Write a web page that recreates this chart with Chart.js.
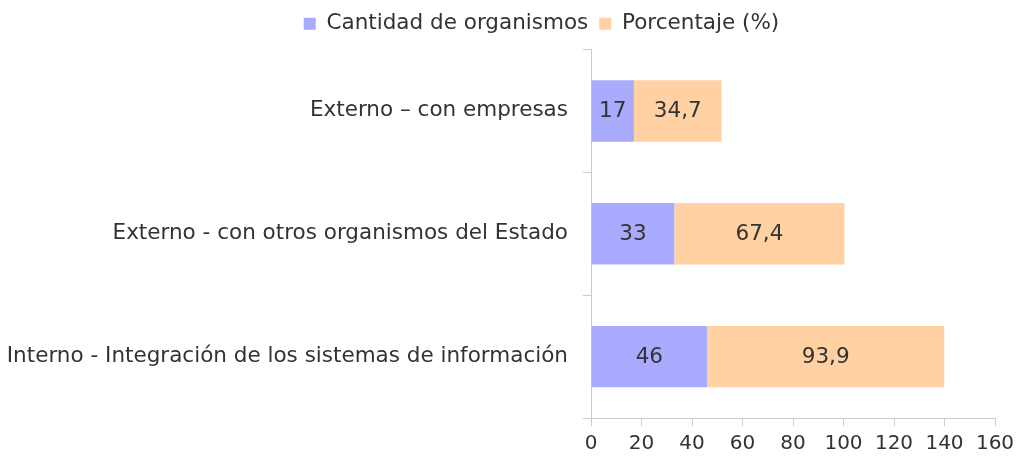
<!DOCTYPE html>
<html><head><meta charset="utf-8">
<script src="https://cdn.jsdelivr.net/npm/chart.js@4/dist/chart.umd.min.js"></script>
<style>html,body{margin:0;padding:0;background:#fff}#wrap{width:1022px;height:459px}</style>
</head><body><div id="wrap"><canvas id="c"></canvas></div>
<script>
const categories = ["Externo – con empresas", "Externo - con otros organismos del Estado", "Interno - Integración de los sistemas de información"];
const cantidad = [17, 33, 46];
const porcentaje = [34.7, 67.4, 93.9];
const xTicks = [0, 20, 40, 60, 80, 100, 120, 140, 160];

const FONT = "'DejaVu Sans', Verdana, sans-serif";
const LABEL_SIZE = 21.5;
const TICK_SIZE = 20;
const LEGEND_SHIFT = 44;

const labelPlugin = {
  id: 'barLabels',
  beforeLayout(chart) {
    const lg = chart.legend;
    if (lg && !lg._padPatched) {
      lg._padPatched = true;
      const origFit = lg.fit;
      lg.fit = function () { origFit.call(this); this.height += 5; };
    }
  },
  afterLayout(chart) {
    const lg = chart.legend;
    if (lg) { lg.left += LEGEND_SHIFT; lg.right += LEGEND_SHIFT; }
  },
  afterDatasetsDraw(chart) {
    const ctx = chart.ctx;
    ctx.save();
    ctx.font = LABEL_SIZE + "px " + FONT;
    ctx.fillStyle = "#333";
    ctx.textAlign = "center";
    ctx.textBaseline = "middle";
    chart.data.datasets.forEach((ds, i) => {
      chart.getDatasetMeta(i).data.forEach((bar, j) => {
        const v = ds.data[j];
        const cx = (bar.x + bar.base) / 2;
        ctx.fillText(String(v).replace('.', ','), cx, bar.y + 1);
      });
    });
    ctx.restore();
  }
};

new Chart(document.getElementById('c'), {
  type: 'bar',
  data: {
    labels: categories,
    datasets: [
      { label: 'Cantidad de organismos', data: cantidad, backgroundColor: '#aaaaff' },
      { label: 'Porcentaje (%)', data: porcentaje, backgroundColor: '#ffd1a3' }
    ]
  },
  options: {
    indexAxis: 'y',
    responsive: true,
    maintainAspectRatio: false,
    animation: false,
    layout: { padding: { top: 2, right: 27, left: 0, bottom: 3 } },
    datasets: { bar: { categoryPercentage: 1, barPercentage: 0.5 } },
    plugins: {
      legend: {
        position: 'top',
        labels: { font: { family: FONT, size: LABEL_SIZE }, color: '#333', boxWidth: 12, boxHeight: 12, padding: 11 }
      },
      tooltip: { enabled: false }
    },
    scales: {
      x: {
        stacked: true,
        min: 0, max: 160,
        afterBuildTicks(axis) { axis.ticks = xTicks.map(v => ({ value: v })); },
        afterFit(axis) { axis.height = axis.height - 6; },
        ticks: { font: { family: FONT, size: TICK_SIZE }, color: '#333', padding: 6, maxRotation: 0 },
        grid: { drawOnChartArea: false, color: '#ccc', tickLength: 8 },
        border: { color: '#ccc' }
      },
      y: {
        stacked: true,
        afterFit(axis) { axis.width = 591; },
        ticks: { font: { family: FONT, size: LABEL_SIZE }, color: '#333', padding: 15 },
        grid: { drawOnChartArea: false, color: '#ccc', tickLength: 8, offset: true },
        border: { color: '#ccc' }
      }
    }
  },
  plugins: [labelPlugin]
});
</script>
</body></html>
